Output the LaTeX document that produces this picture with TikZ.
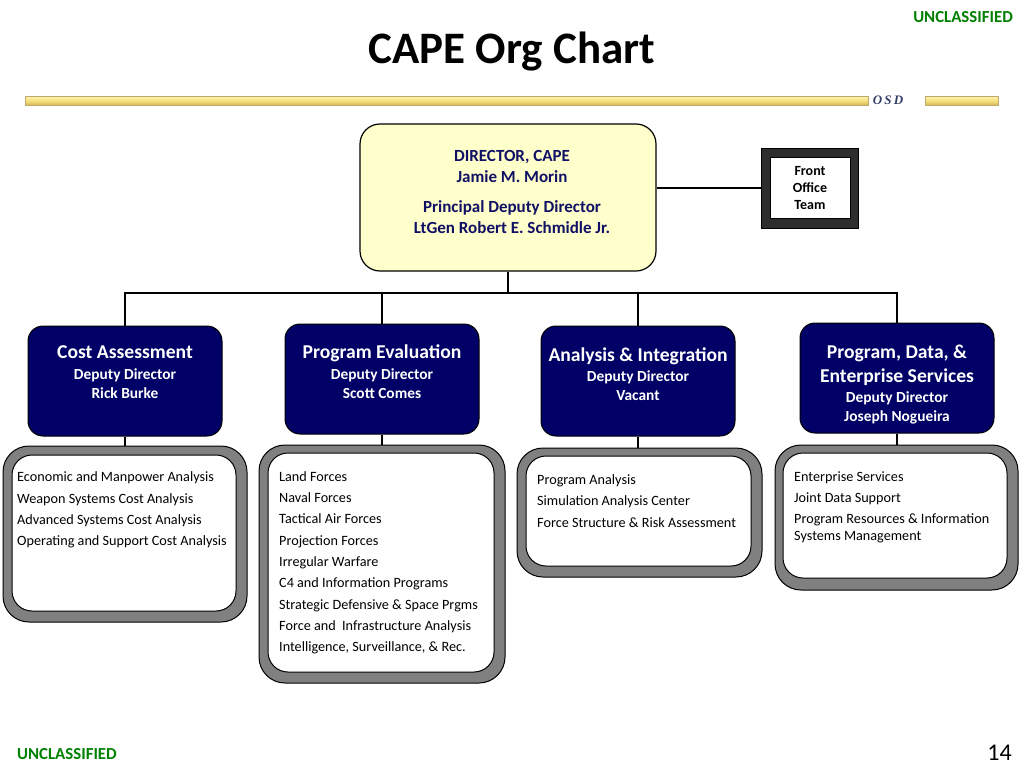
\documentclass[tikz,border=0pt]{standalone}
\usepackage{fontspec}
\setmainfont{Carlito}
\newfontfamily\osdfont{Liberation Serif}
\definecolor{navy}{RGB}{0,0,102}
\definecolor{dirtxt}{RGB}{16,16,100}
\definecolor{dirfill}{RGB}{255,255,204}
\definecolor{unclgreen}{RGB}{0,128,0}
\definecolor{ringgray}{RGB}{128,128,128}
\definecolor{osdblue}{RGB}{52,62,102}
\definecolor{goldtop}{RGB}{255,244,170}
\definecolor{goldmid}{RGB}{246,226,130}
\definecolor{goldbot}{RGB}{214,184,80}
\definecolor{goldedge}{RGB}{190,170,110}
\definecolor{fodark}{RGB}{45,45,45}
\tikzset{
  goldbar/.style={draw=goldedge, line width=0.6pt, top color=goldtop, bottom color=goldbot, middle color=goldmid},
  dirbox/.style={draw=black, line width=1.2pt, fill=dirfill, rounded corners=20pt, inner sep=0pt},
  dirtext/.style={font=\fontsize{17}{20}\selectfont\bfseries, text=dirtxt, anchor=mid, yshift=-3.7pt},
  bluebox/.style={draw=black, line width=1pt, fill=navy, rounded corners=15pt, inner sep=0pt, minimum width=194pt, minimum height=110pt},
  bluetitle/.style={font=\fontsize{19.6}{22}\selectfont\bfseries, text=white, anchor=mid, yshift=-4.3pt},
  bluesub/.style={font=\fontsize{15.4}{18}\selectfont\bfseries, text=white, anchor=mid, yshift=-3.4pt},
  ringouter/.style={draw=black, line width=1pt, fill=ringgray, rounded corners=26pt, inner sep=0pt},
  ringinner/.style={draw=black, line width=1pt, fill=white, rounded corners=20pt, inner sep=0pt},
  item/.style={font=\fontsize{14.2}{16}\selectfont, text=black, anchor=mid west, inner sep=0pt, yshift=-3.1pt},
  wire/.style={draw=black, line width=1.6pt},
  uncl/.style={font=\fontsize{16.8}{19}\selectfont\bfseries, text=unclgreen, inner sep=0pt, yshift=-3.7pt}
}
\begin{document}
\begin{tikzpicture}[x=1pt,y=-1pt]
\useasboundingbox (0,0) rectangle (1024,768);
\fill[white] (0,0) rectangle (1024,768);
% header
\node[uncl, anchor=mid east] (unclTop) at (1013,16) {UNCLASSIFIED};
\node[font=\fontsize{45}{50}\selectfont\bfseries, anchor=mid, yshift=-10pt] (title) at (512,51) {CAPE Org Chart};
\node[goldbar, minimum width=843pt, minimum height=9pt, inner sep=0pt] (barL) at (446.5,100.5) {};
\node[goldbar, minimum width=73pt, minimum height=9pt, inner sep=0pt] (barR) at (961.5,100.5) {};
\node[font=\osdfont\fontsize{13}{14}\selectfont\bfseries\itshape, text=osdblue, anchor=mid, yshift=-2pt] (osd) at (888,100) {O\,S\,D};
% director
\node[dirbox, minimum width=296pt, minimum height=147pt] (dir) at (508,197.5) {};
\node[dirtext] (d1) at (512,155) {DIRECTOR, CAPE};
\node[dirtext] (d2) at (512,176) {Jamie M. Morin};
\node[dirtext] (d3) at (512,206) {Principal Deputy Director};
\node[dirtext] (d4) at (512,227) {LtGen Robert E. Schmidle Jr.};
% front office
\node[draw=black, fill=fodark, line width=0.8pt, minimum width=97pt, minimum height=80pt, inner sep=0pt] (fo) at (809.5,188) {};
\node[draw=black, fill=white, line width=0.8pt, minimum width=80pt, minimum height=61pt, inner sep=0pt] (foi) at (810,187.5) {};
\node[font=\fontsize{14}{17}\selectfont\bfseries, align=center, anchor=center] (fot) at (810,188.5) {Front\\Office\\Team};
\draw[wire] (dir.east |- fo.west) -- (fo.west);
% blue boxes
\node[bluebox] (ca) at (125,381) {};
\node[bluebox] (pe) at (382,379) {};
\node[bluebox] (ai) at (638,381) {};
\node[bluebox] (pd) at (897,378) {};
\node[bluetitle] at (125,352) {Cost Assessment};
\node[bluesub] at (125,374) {Deputy Director};
\node[bluesub] at (125,393) {Rick Burke};
\node[bluetitle] at (382,352) {Program Evaluation};
\node[bluesub] at (382,374) {Deputy Director};
\node[bluesub] at (382,393) {Scott Comes};
\node[bluetitle] at (638,355) {Analysis \& Integration};
\node[bluesub] at (638,376) {Deputy Director};
\node[bluesub] at (638,395) {Vacant};
\node[bluetitle] at (897,352) {Program, Data, \&};
\node[bluetitle] at (897,376) {Enterprise Services};
\node[bluesub] at (897,397) {Deputy Director};
\node[bluesub] at (897,416) {Joseph Nogueira};
% bus
\coordinate (bus) at (508,293);
\draw[wire] (dir.south) -- (bus);
\draw[wire] (ca.north) -- (ca.north |- bus) -- (pd.north |- bus) -- (pd.north);
\draw[wire] (pe.north) -- (pe.north |- bus);
\draw[wire] (ai.north) -- (ai.north |- bus);
% ring boxes
\node[ringouter, minimum width=244pt, minimum height=176pt] (g1) at (125,534) {};
\node[ringinner, minimum width=224pt, minimum height=156pt] (g1i) at (124,533) {};
\node[ringouter, minimum width=246pt, minimum height=238pt] (g2) at (382,564) {};
\node[ringinner, minimum width=226pt, minimum height=219pt] (g2i) at (381,562.5) {};
\node[ringouter, minimum width=245pt, minimum height=129pt] (g3) at (639.5,512.5) {};
\node[ringinner, minimum width=225pt, minimum height=110pt] (g3i) at (638.5,511) {};
\node[ringouter, minimum width=243pt, minimum height=145pt] (g4) at (896.5,517.5) {};
\node[ringinner, minimum width=224pt, minimum height=125pt] (g4i) at (895,515.5) {};
\draw[wire] (ca.south) -- (g1.north);
\draw[wire] (pe.south) -- (g2.north);
\draw[wire] (ai.south) -- (ai.south |- g3.north);
\draw[wire] (pd.south) -- (pd.south |- g4.north);
% lists
\node[item] at (17,476) {Economic and Manpower Analysis};
\node[item] at (17,498) {Weapon Systems Cost Analysis};
\node[item] at (17,519) {Advanced Systems Cost Analysis};
\node[item] at (17,540) {Operating and Support Cost Analysis};
\node[item] at (279,476) {Land Forces};
\node[item] at (279,497) {Naval Forces};
\node[item] at (279,518) {Tactical Air Forces};
\node[item] at (279,540) {Projection Forces};
\node[item] at (279,561) {Irregular Warfare};
\node[item] at (279,582) {C4 and Information Programs};
\node[item] at (279,604) {Strategic Defensive \& Space Prgms};
\node[item] at (279,625) {Force and\ \ Infrastructure Analysis};
\node[item] at (279,646) {Intelligence, Surveillance, \& Rec.};
\node[item] at (537,479) {Program Analysis};
\node[item] at (537,500) {Simulation Analysis Center};
\node[item] at (537,522) {Force Structure \& Risk Assessment};
\node[item] at (794,476) {Enterprise Services};
\node[item] at (794,497) {Joint Data Support};
\node[item] at (794,518) {Program Resources \& Information};
\node[item] at (794,535) {Systems Management};
% footer
\node[uncl, anchor=mid west] (unclBot) at (17,753) {UNCLASSIFIED};
\node[font=\fontsize{24}{26}\selectfont, inner sep=0pt, anchor=mid east, yshift=-5.3pt] (pg) at (1012,753) {14};
\end{tikzpicture}
\end{document}
